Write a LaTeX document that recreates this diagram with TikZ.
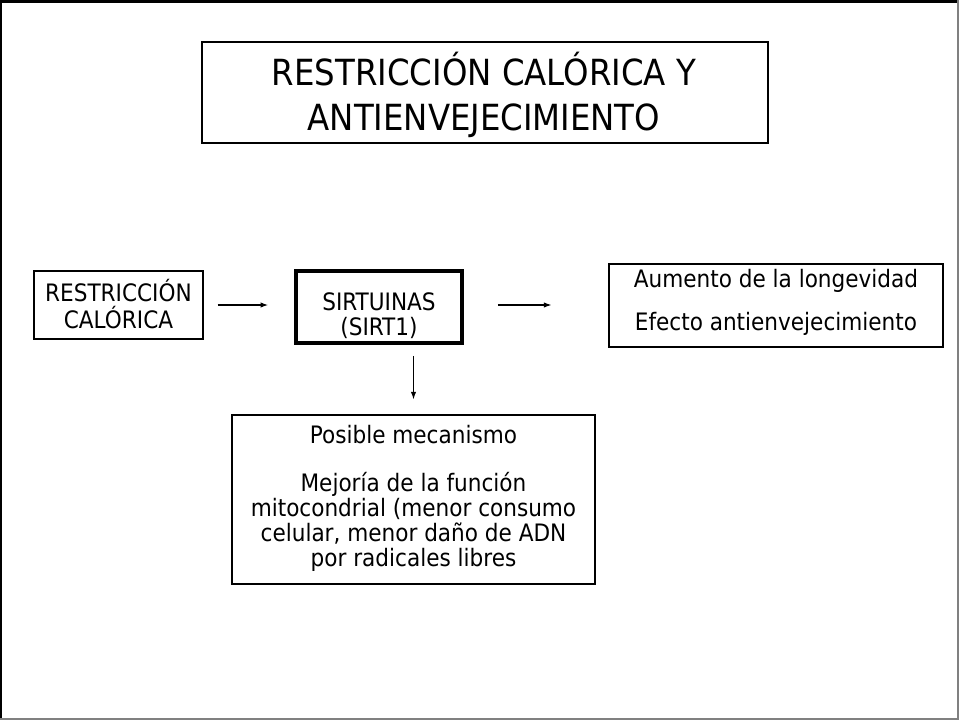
\documentclass[tikz,border=0pt]{standalone}
\usepackage{fontspec}
\setmainfont{DejaVu Sans Condensed}
\usetikzlibrary{arrows.meta}

\tikzset{
  caja/.style={draw, line width=0.9pt, inner sep=0pt},
  texto/.style={align=center, inner sep=0pt, font=\fontsize{18}{18.75}\selectfont},
  flecha/.style={-{Latex[length=5.6pt,width=4pt]}, line width=0.8pt}
}

\begin{document}
\begin{tikzpicture}[x=0.75pt, y=-0.75pt]
        \useasboundingbox (0,0) rectangle (959,720);
        % marco de la diapositiva
        \draw[line width=1.9pt] (1,720) -- (1,1.5) -- (959,1.5);
        \draw[line width=1.5pt, gray] (958,0) -- (958,719) -- (0,719);
        % titulo
        \node[caja, minimum width=424.5pt, minimum height=75.75pt] (titulo) at (485,92.5) {};
        \node[texto, font=\fontsize{27}{33.75}\selectfont] (tituloTxt) at (484,94.5)
          {RESTRICCIÓN CALÓRICA Y\\ANTIENVEJECIMIENTO};
        % cajas
        \node[caja, minimum width=126.75pt, minimum height=51pt] (restr) at (118.5,305) {};
        \node[texto, font=\fontsize{18}{20.6}\selectfont] (restrTxt) at (118.5,304)
          {RESTRICCIÓN\\CALÓRICA};
        \node[caja, line width=2.9pt, minimum width=124.5pt, minimum height=54pt] (sirt) at (379,307) {};
        \node[texto] (sirtTxt) at (379,315.5)
          {SIRTUINAS\\(SIRT1)};
        \node[caja, minimum width=250.5pt, minimum height=62.25pt] (efecto) at (776,305.5) {};
        \node[texto] (efectoTxt) at (776,302)
          {Aumento de la longevidad\\[13.5pt]Efecto antienvejecimiento};
        \node[caja, minimum width=272.25pt, minimum height=126.75pt] (mecan) at (413.5,499.5) {};
        \node[texto] (mecanTxt) at (413.5,498)
          {Posible mecanismo\\[17.25pt]Mejoría de la función\\mitocondrial (menor consumo\\celular, menor daño de ADN\\por radicales libres};
        % flechas
        \draw[flecha, shorten <=10.5pt, shorten >=19.5pt] (restr.east) -- (sirt.west |- restr.east);
        \draw[flecha, shorten <=25.5pt, shorten >=42.75pt] (sirt.east |- restr.east) -- (efecto.west |- restr.east);
        \draw[flecha, shorten <=8.25pt, shorten >=11.25pt] (mecan.north |- sirt.south) -- (mecan.north);
      \end{tikzpicture}
\end{document}
